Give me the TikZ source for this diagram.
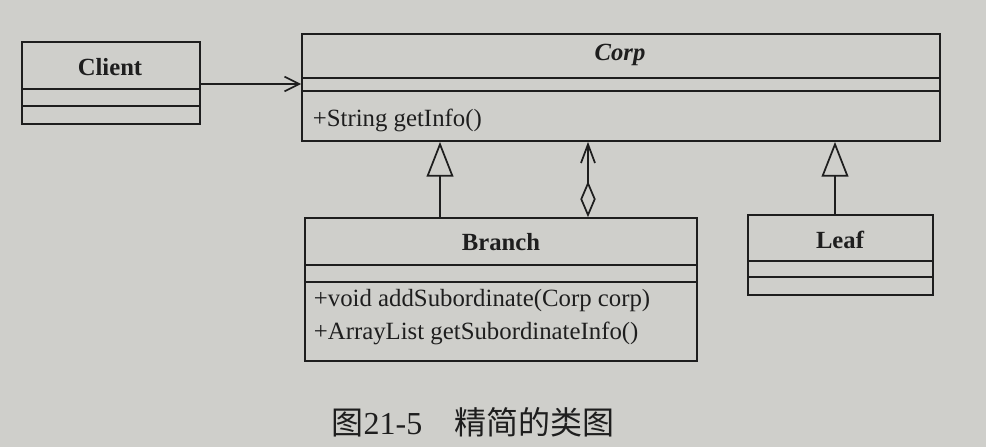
\documentclass[tikz,border=0pt]{standalone}
\usepackage{fontspec}
\setmainfont{Liberation Serif}
\newfontfamily\cjkfont{Noto Sans CJK SC}
\usetikzlibrary{arrows.meta,fit}
\definecolor{paper}{RGB}{207,207,203}
\definecolor{ink}{RGB}{30,30,30}
\begin{document}
\begin{tikzpicture}[x=0.75pt,y=-0.75pt,color=ink,line width=1.3pt,
  cls/.style={draw,inner sep=0pt},
  title/.style={font=\fontsize{18.5}{22}\selectfont\bfseries,inner sep=0pt},
  member/.style={anchor=west,font=\fontsize{18.6}{22}\selectfont,inner sep=0pt},
  assoc/.style={-{Straight Barb[length=11pt,width=11pt]}},
  inherit/.style={-{Triangle[open,length=26pt,width=20pt]}},
  aggr/.style={{Diamond[open,length=27pt,width=11.5pt]}-{Straight Barb[length=14pt,width=10.5pt]}}]

% page background
\fill[paper] (0,0) rectangle (986,447);
\useasboundingbox (0,0) rectangle (986,447);

% class boxes
\node[cls,fit={(22,42) (200,124)}] (client) {};
\node[cls,fit={(302,34) (940,141)}] (corp) {};
\node[cls,fit={(305,218) (697,361)}] (branch) {};
\node[cls,fit={(748,215) (933,295)}] (leaf) {};

% compartment separators
\draw (client.west |- 0,89) -- (client.east |- 0,89);
\draw (client.west |- 0,106) -- (client.east |- 0,106);
\draw (corp.west |- 0,78) -- (corp.east |- 0,78);
\draw (corp.west |- 0,91) -- (corp.east |- 0,91);
\draw (branch.west |- 0,265) -- (branch.east |- 0,265);
\draw (branch.west |- 0,282) -- (branch.east |- 0,282);
\draw (leaf.west |- 0,261) -- (leaf.east |- 0,261);
\draw (leaf.west |- 0,277) -- (leaf.east |- 0,277);

% class names and operations
\node[title] (clientname) at (110,67) {Client};
\node[title,font=\fontsize{18.5}{22}\selectfont\bfseries\itshape] (corpname) at (620,55) {Corp};
\node[member] (getinfo) at (312,120) {+String getInfo()};
\node[title] (branchname) at (501,242) {Branch};
\node[member] (addsub) at (313,301) {+void addSubordinate(Corp corp)};
\node[member] (getsub) at (313,333) {+ArrayList getSubordinateInfo()};
\node[title] (leafname) at (840,240) {Leaf};

% relationships
\draw[assoc] (client.east |- 0,84) -- (corp.west |- 0,84);
\draw[inherit] (branch.north -| 440,0) -- (corp.south -| 440,0);
\draw[aggr] (branch.north -| 588,0) -- (corp.south -| 588,0);
\draw[inherit] (leaf.north -| 835,0) -- (corp.south -| 835,0);

% caption
\node[font=\fontsize{24}{28}\selectfont,inner sep=0pt] (caption) at (473,422)
  {{\cjkfont 图}21-5\hspace{1em}{\cjkfont 精简的类图}};
\end{tikzpicture}
\end{document}
